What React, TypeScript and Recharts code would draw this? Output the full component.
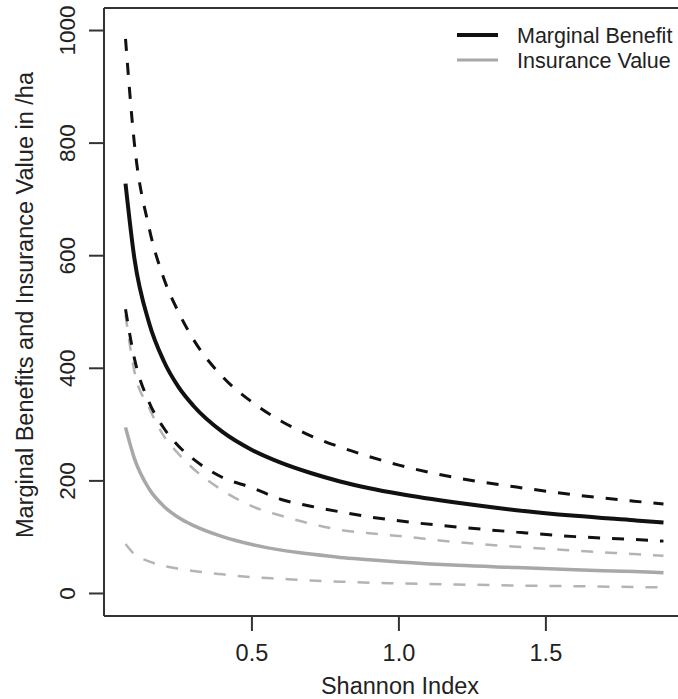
import React from "react";
import { Line, LineChart, ReferenceLine, XAxis, YAxis } from "recharts";

// Shannon index (x) and the five curves, $/ha.
const shannon = [0.07, 0.1, 0.15, 0.2, 0.25, 0.3, 0.4, 0.5, 0.6, 0.7, 0.8, 0.9, 1.0, 1.2, 1.4, 1.6, 1.8, 1.9];
const marginalBenefit = [728, 596, 481, 413, 367, 334, 287, 255, 232, 214, 199, 187, 177, 161, 148, 138, 130, 126];
const benefitUpper = [985, 800, 650, 560, 500, 452, 385, 340, 306, 280, 260, 243, 228, 205, 189, 175, 164, 159];
const benefitLower = [505, 418, 340, 294, 262, 239, 206, 188, 167, 155, 145, 136, 129, 118, 109, 101, 96, 93];
const insuranceValue = [295, 240, 186, 155, 135, 121, 101, 87, 77, 70, 64, 60, 56, 50, 46, 42, 39, 37];
const insuranceUpper = [495, 395, 330, 280, 248, 222, 183, 155, 138, 124, 113, 107, 102, 91, 83, 76, 70, 67];
const insuranceLower = [88, 70, 57, 49, 44, 40, 34, 29, 26, 23, 21, 19, 18, 16, 14, 13, 11.5, 11];

const xTicks = [0.5, 1.0, 1.5];
const yTicks = [0, 200, 400, 600, 800, 1000];

const data = shannon.map((x, i) => ({
  x,
  mb: marginalBenefit[i],
  mbHi: benefitUpper[i],
  mbLo: benefitLower[i],
  iv: insuranceValue[i],
  ivHi: insuranceUpper[i],
  ivLo: insuranceLower[i],
}));

const FONT = '"Liberation Sans", Arial, Helvetica, sans-serif';
const INK = "#222";
const BOX = "#333";
const BLACK = "#111";
const GREY = "#a8a8a8";
const GREY_DASH = "#b4b4b4";

function YTick({ x, y, payload }: any) {
  const cx = x - 19;
  return (
    <text
      x={cx}
      y={y}
      transform={`rotate(-90, ${cx}, ${y})`}
      textAnchor="middle"
      dominantBaseline="central"
      fontSize={22.5}
      fontFamily={FONT}
      fill={INK}
    >
      {payload.value}
    </text>
  );
}

function XTick({ x, y, payload }: any) {
  return (
    <text
      x={x}
      y={y + 22}
      textAnchor="middle"
      dominantBaseline="central"
      fontSize={23.5}
      fontFamily={FONT}
      fill={INK}
    >
      {Number(payload.value).toFixed(1)}
    </text>
  );
}

export default function App() {
  return (
    <div
      style={{
        position: "absolute",
        left: 0,
        top: 0,
        width: 678,
        height: 699,
        overflow: "hidden",
        background: "#fff",
      }}
    >
      <LineChart width={700} height={699} data={data} margin={{ top: 8, right: 15, left: 0, bottom: 0 }}>
        <XAxis
          dataKey="x"
          type="number"
          domain={[-0.0032, 1.9732]}
          allowDataOverflow
          ticks={xTicks}
          height={83}
          tickSize={15}
          tickMargin={0}
          stroke={BOX}
          strokeWidth={2}
          tick={<XTick />}
        />
        <YAxis
          type="number"
          domain={[-40, 1040]}
          allowDataOverflow
          ticks={yTicks}
          width={104}
          tickSize={15}
          tickMargin={2}
          stroke={BOX}
          strokeWidth={2}
          tick={<YTick />}
        />
        <ReferenceLine y={1040} stroke={BOX} strokeWidth={2} />

        {/* insurance value: grey, drawn under the benefit curves */}
        <Line type="monotone" dataKey="ivLo" stroke={GREY_DASH} strokeWidth={2.5} strokeDasharray="12 12" dot={false} isAnimationActive={false} />
        <Line type="monotone" dataKey="ivHi" stroke={GREY_DASH} strokeWidth={2.5} strokeDasharray="12 12" dot={false} isAnimationActive={false} />
        <Line type="monotone" dataKey="iv" stroke={GREY} strokeWidth={3.5} dot={false} isAnimationActive={false} />

        {/* marginal benefit: black */}
        <Line type="monotone" dataKey="mbLo" stroke={BLACK} strokeWidth={3} strokeDasharray="12 12" dot={false} isAnimationActive={false} />
        <Line type="monotone" dataKey="mbHi" stroke={BLACK} strokeWidth={3} strokeDasharray="12 12" dot={false} isAnimationActive={false} />
        <Line type="monotone" dataKey="mb" stroke={BLACK} strokeWidth={4} dot={false} isAnimationActive={false} />

        {/* legend */}
        <line x1={457} x2={498} y1={35} y2={35} stroke={BLACK} strokeWidth={4} />
        <line x1={457} x2={498} y1={60} y2={60} stroke={GREY} strokeWidth={3} />
        <text x={517} y={36} dominantBaseline="central" fontSize={21.5} fontFamily={FONT} fill={INK}>
          Marginal Benefit
        </text>
        <text x={517} y={61} dominantBaseline="central" fontSize={21.5} fontFamily={FONT} fill={INK}>
          Insurance Value
        </text>

        {/* axis titles */}
        <text x={400} y={694} textAnchor="middle" fontSize={23.5} fontFamily={FONT} fill={INK}>
          Shannon Index
        </text>
        <text
          x={25}
          y={305}
          transform="rotate(-90, 25, 305)"
          textAnchor="middle"
          dominantBaseline="central"
          fontSize={23.5}
          fontFamily={FONT}
          fill={INK}
        >
          Marginal Benefits and Insurance Value in /ha
        </text>
      </LineChart>
    </div>
  );
}
